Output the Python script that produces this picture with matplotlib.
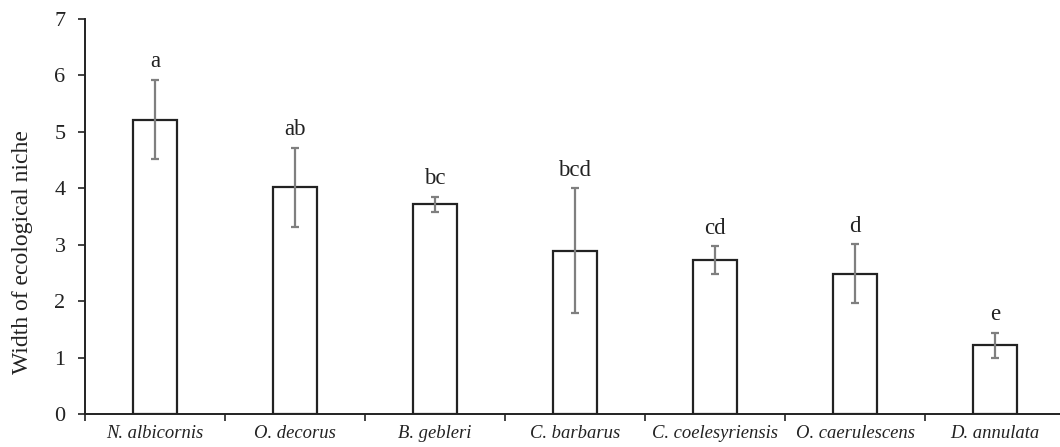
import matplotlib.pyplot as plt
import numpy as np

species = ['N. albicornis', 'O. decorus', 'B. gebleri', 'C. barbarus',
           'C. coelesyriensis', 'O. caerulescens', 'D. annulata']
niche_width = [5.22, 4.02, 3.72, 2.90, 2.73, 2.49, 1.22]
niche_err = [0.70, 0.70, 0.13, 1.10, 0.25, 0.52, 0.22]
groups = ['a', 'ab', 'bc', 'bcd', 'cd', 'd', 'e']

plt.rcParams['font.family'] = ['Liberation Serif', 'DejaVu Serif']

fig = plt.figure(figsize=(10.6, 4.47), dpi=100)
ax = fig.add_axes([85 / 1060, 32.7 / 447, 980 / 1060, 395.3 / 447])

x = np.arange(len(species))
ax.bar(x, niche_width, width=0.31, color='white', edgecolor='#222222', linewidth=1.6, zorder=2)
ax.errorbar(x, niche_width, yerr=niche_err, fmt='none', ecolor='#7f7f7f',
            elinewidth=1.6, capsize=3, capthick=1.6, zorder=3)

for xi, v, e, g in zip(x, niche_width, niche_err, groups):
    ax.annotate(g, (xi, v + e), xytext=(0, 9), textcoords='offset points',
                ha='center', va='baseline', fontsize=16.5, color='#222222')

ax.set_xlim(-0.5, len(species) - 0.5)
ax.set_ylim(0, 7)
ax.set_yticks(range(8))
ax.tick_params(axis='y', labelsize=16, length=5, width=1.2, pad=9, colors='#222222', direction='out')
ax.set_xticks(np.arange(-0.5, len(species), 1.0))
ax.set_xticklabels([])
ax.set_xticks(x, minor=True)
ax.set_xticklabels(species, minor=True, fontstyle='italic', fontsize=13.4)
ax.tick_params(axis='x', which='major', length=5, width=1.2, colors='#222222')
ax.tick_params(axis='x', which='minor', length=0, pad=8, colors='#222222')

ax.set_ylabel('Width of ecological niche', fontsize=17, color='#222222')
ax.yaxis.set_label_coords(-0.053, 0.41)

for s in ['top', 'right']:
    ax.spines[s].set_visible(False)
for s in ['left', 'bottom']:
    ax.spines[s].set_linewidth(1.4)
    ax.spines[s].set_color('#222222')

fig.savefig('out.png', dpi=100)
